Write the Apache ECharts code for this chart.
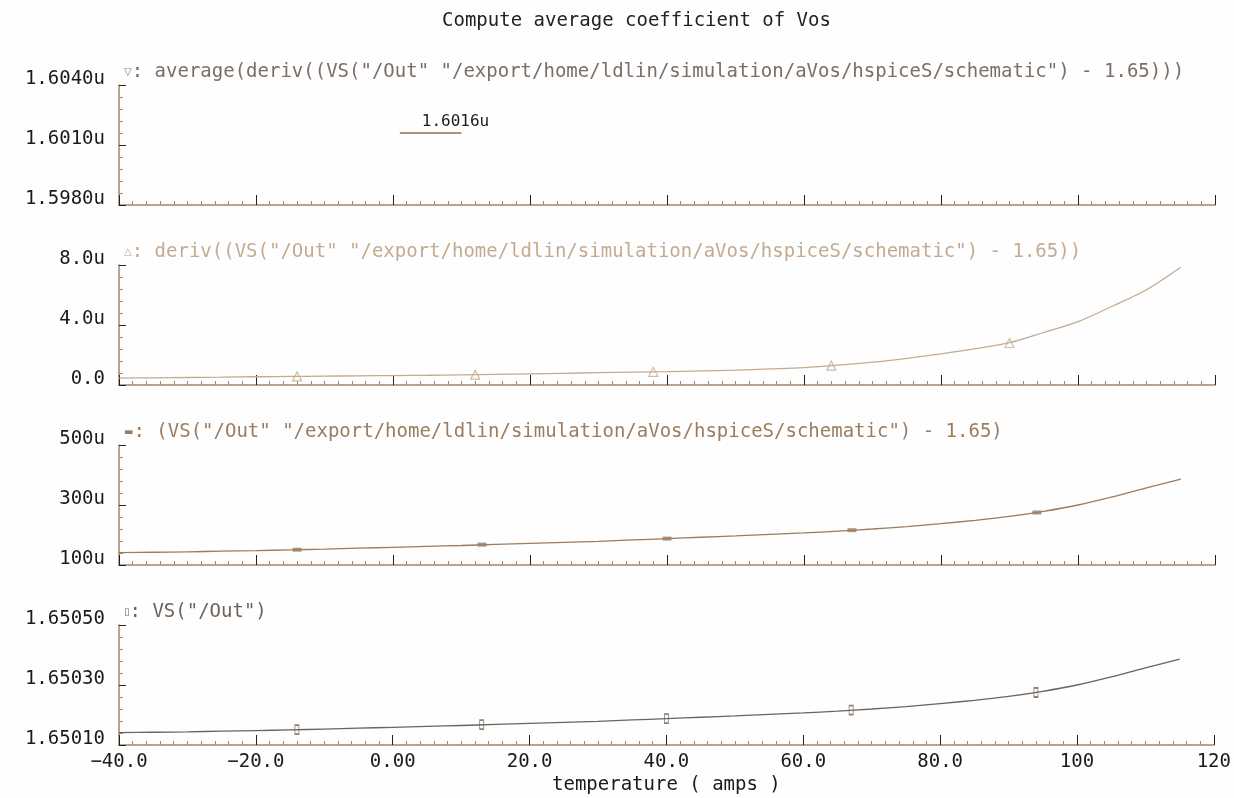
<!DOCTYPE html>
<html><head><meta charset="utf-8">
<script src="https://cdn.jsdelivr.net/npm/echarts@6/dist/echarts.min.js"></script>
<style>html,body{margin:0;padding:0;background:#fefefe}#c{width:1234px;height:798px}</style>
</head><body><div id="c"></div>
<script>
// ---------- data ----------
const temperature = [-40,-35,-30,-25,-20,-15,-10,-5,0,5,10,15,20,25,30,35,40,45,50,55,60,65,70,75,80,85,90,95,100,105,110,115];
// VS("/Out") - 1.65, in micro-volts
const vOutMicro = [141,142.5,144,146,148,150.5,153,156,159,162,165,168.5,172,175.5,179,183.5,188,192.5,197,202,207,213,220,228,238,249,262,279,300,327,357,386];
// deriv(...), in micro units
const derivMicro = [0.46,0.48,0.50,0.52,0.55,0.57,0.59,0.61,0.63,0.65,0.68,0.71,0.74,0.78,0.82,0.86,0.89,0.94,0.99,1.07,1.16,1.32,1.52,1.78,2.08,2.42,2.82,3.50,4.22,5.25,6.35,7.85];
const derivMarkerT = [-14,12,38,64,90];
const derivMarkerV = [0.57,0.69,0.88,1.29,2.8];
const vMarkerT = [-14,13,40,67,94];
const vMarkerV = [151,168,188,216,275];
const avgValue = 1.6016;          // micro
const avgLabel = '1.6016u';
const avgSpanT = [1,10];
const xTickLabels = {'-40':'−40.0','-20':'−20.0','0':'0.00','20':'20.0','40':'40.0','60':'60.0','80':'80.0','100':'100','120':'120'};
const p1YLabels = ['1.5980u','1.6010u','1.6040u'];
const p2YLabels = ['0.0','4.0u','8.0u'];
const p3YLabels = ['100u','300u','500u'];
const p4YLabels = ['1.65010','1.65030','1.65050'];
const p1Base = 1.598, p1Range = 0.006;
const p2Base = 0, p2Range = 8;
const p3Base = 100, p3Range = 400;
const p4Base = 100, p4Range = 400;
const legendTexts = [
  ['▽', ': average(deriv((VS("/Out" "/export/home/ldlin/simulation/aVos/hspiceS/schematic") - 1.65)))'],
  ['△', ': deriv((VS("/Out" "/export/home/ldlin/simulation/aVos/hspiceS/schematic") - 1.65))'],
  ['▬', ': (VS("/Out" "/export/home/ldlin/simulation/aVos/hspiceS/schematic") - 1.65)'],
  ['▯', ': VS("/Out")']
];
const titleText = 'Compute average coefficient of Vos';
const xName = 'temperature ( amps )';

// ---------- layout / style ----------
const FONT = 'DejaVu Sans Mono';
const AX = '#a48668';
const tops = [85, 265, 445, 625];
const H = 120;
const lineColors = ['#8c6c50', '#c4aa90', '#9c7c5e', '#6f6258'];
const legendColors = ['#7c6e64', '#c4aa90', '#9c7c5e', '#6f6258'];
const yLabels = [p1YLabels, p2YLabels, p3YLabels, p4YLabels];
const bases = [p1Base, p2Base, p3Base, p4Base];
const ranges = [p1Range, p2Range, p3Range, p4Range];

const grids = tops.map(t => ({left: 119, right: 19, top: t, height: H}));
const xAxes = tops.map((t, i) => ({
  gridIndex: i, type: 'value', min: -40, max: 120, interval: 20,
  axisLine: {show: true, onZero: false, lineStyle: {color: AX, width: 1.5}},
  axisTick: {show: true, inside: true, length: 10, lineStyle: {color: '#222', width: 1}},
  minorTick: {show: true, splitNumber: 10, length: 4, lineStyle: {color: AX}},
  splitLine: {show: false}, minorSplitLine: {show: false},
  axisLabel: {show: i === 3, margin: 8, fontFamily: FONT, fontSize: 19, color: '#1a1a1a',
    formatter: v => xTickLabels[String(Math.round(v))] || ''},
  name: i === 3 ? xName : '', nameLocation: 'middle', nameGap: 31,
  nameTextStyle: {fontFamily: FONT, fontSize: 19, color: '#1a1a1a'}
}));
const yAxes = tops.map((t, i) => ({
  gridIndex: i, type: 'value', min: 0, max: ranges[i], interval: ranges[i] / 2,
  axisLine: {show: true, onZero: false, lineStyle: {color: AX, width: 1.5}},
  axisTick: {show: true, inside: true, length: 7, lineStyle: {color: '#222'}},
  minorTick: {show: true, splitNumber: 5, length: 4, lineStyle: {color: AX}},
  splitLine: {show: false}, minorSplitLine: {show: false},
  axisLabel: {margin: 14, fontFamily: FONT, fontSize: 19, color: '#1a1a1a',
    verticalAlign: 'bottom', lineHeight: 12,
    formatter: v => yLabels[i][Math.round(v / (ranges[i] / 2))]}
}));

const titles = [{text: titleText, left: 442, top: 12, padding: 0,
  textStyle: {fontFamily: FONT, fontSize: 19, fontWeight: 'normal', color: '#222'}}];
legendTexts.forEach((lt, i) => {
  titles.push({
    text: '{s|' + lt[0] + '}{t|' + lt[1] + '}', left: 124, top: tops[i] - 24, padding: 0,
    textStyle: {fontWeight: 'normal', rich: {
      s: {fontFamily: 'DejaVu Sans', fontSize: 10, fontWeight: 'normal', color: legendColors[i], lineHeight: 22},
      t: {fontFamily: FONT, fontSize: 19, fontWeight: 'normal', color: legendColors[i], lineHeight: 22}
    }}
  });
});

const curve = {showSymbol: false, smooth: 0.3};
const series = [
  {type: 'line', xAxisIndex: 0, yAxisIndex: 0, symbol: 'circle', symbolSize: 0.01, showSymbol: true,
   lineStyle: {color: lineColors[0], width: 1.5}, itemStyle: {color: lineColors[0]},
   data: avgSpanT.map((t, k) => k === avgSpanT.length - 1 ?
     {value: [t, avgValue - p1Base], label: {show: true, formatter: avgLabel, position: 'top', distance: 3,
       offset: [-6, 0], fontFamily: FONT, fontSize: 16, color: '#1a1a1a'}} : [t, avgValue - p1Base])},
  Object.assign({type: 'line', xAxisIndex: 1, yAxisIndex: 1, lineStyle: {color: lineColors[1], width: 1.3},
   data: temperature.map((t, k) => [t, derivMicro[k] - p2Base])}, curve),
  {type: 'scatter', xAxisIndex: 1, yAxisIndex: 1, symbol: 'triangle', symbolSize: [9, 9],
   itemStyle: {color: 'rgba(0,0,0,0)', borderColor: lineColors[1], borderWidth: 1.2},
   data: derivMarkerT.map((t, k) => [t, derivMarkerV[k] - p2Base])},
  Object.assign({type: 'line', xAxisIndex: 2, yAxisIndex: 2, lineStyle: {color: lineColors[2], width: 1.3},
   data: temperature.map((t, k) => [t, vOutMicro[k] - p3Base])}, curve),
  {type: 'scatter', xAxisIndex: 2, yAxisIndex: 2, symbol: 'rect', symbolSize: [9, 4],
   itemStyle: {color: lineColors[2]},
   data: vMarkerT.map((t, k) => [t, vMarkerV[k] - p3Base])},
  Object.assign({type: 'line', xAxisIndex: 3, yAxisIndex: 3, lineStyle: {color: lineColors[3], width: 1.3},
   data: temperature.map((t, k) => [t, vOutMicro[k] - p4Base])}, curve),
  {type: 'scatter', xAxisIndex: 3, yAxisIndex: 3, symbol: 'rect', symbolSize: [4, 9],
   itemStyle: {color: 'rgba(0,0,0,0)', borderColor: lineColors[3], borderWidth: 1.2},
   data: vMarkerT.map((t, k) => [t, vMarkerV[k] - p4Base])}
];

const chart = echarts.init(document.getElementById('c'));
chart.setOption({
  backgroundColor: '#fefefe', animation: false,
  title: titles, grid: grids, xAxis: xAxes, yAxis: yAxes, series: series
});
</script></body></html>
